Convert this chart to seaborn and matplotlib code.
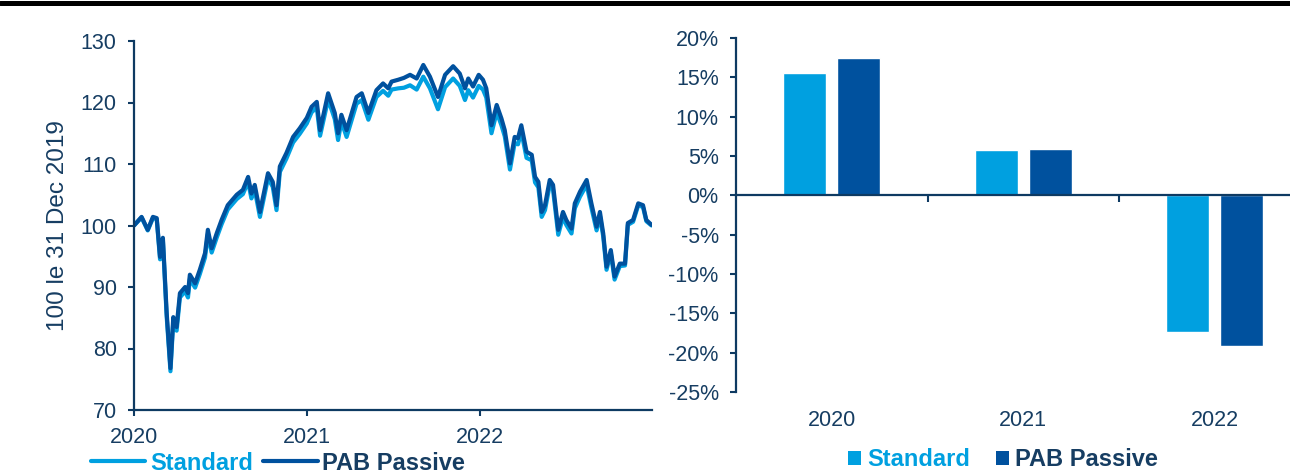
import matplotlib
matplotlib.use("Agg")
import matplotlib.pyplot as plt
import matplotlib.ticker as mticker
import matplotlib.dates as mdates
from matplotlib.lines import Line2D
from matplotlib.patches import Patch
import seaborn as sns
import pandas as pd

# ---------------- data ----------------
dates = [
    "2020-01-01", "2020-01-17", "2020-01-30", "2020-02-10", "2020-02-18", "2020-02-25",
    "2020-03-02", "2020-03-10", "2020-03-18", "2020-03-24", "2020-03-31", "2020-04-07",
    "2020-04-18", "2020-04-24", "2020-04-28", "2020-05-09", "2020-05-19", "2020-05-30",
    "2020-06-05", "2020-06-13", "2020-06-24", "2020-07-04", "2020-07-17", "2020-08-05",
    "2020-08-18", "2020-08-29", "2020-09-05", "2020-09-12", "2020-09-23", "2020-10-10",
    "2020-10-20", "2020-10-28", "2020-11-04", "2020-11-18", "2020-12-02", "2020-12-16",
    "2020-12-31", "2021-01-10", "2021-01-21", "2021-01-28", "2021-02-14", "2021-02-28",
    "2021-03-07", "2021-03-14", "2021-03-25", "2021-04-15", "2021-04-26", "2021-05-10",
    "2021-05-27", "2021-06-10", "2021-06-21", "2021-06-28", "2021-07-12", "2021-07-24",
    "2021-08-06", "2021-08-20", "2021-09-03", "2021-09-17", "2021-10-04", "2021-10-19",
    "2021-11-05", "2021-11-19", "2021-11-30", "2021-12-07", "2021-12-17", "2021-12-29",
    "2022-01-07", "2022-01-14", "2022-01-25", "2022-02-05", "2022-02-15", "2022-02-22",
    "2022-03-05", "2022-03-15", "2022-03-22", "2022-03-29", "2022-04-09", "2022-04-20",
    "2022-04-27", "2022-05-04", "2022-05-11", "2022-05-18", "2022-05-28", "2022-06-04",
    "2022-06-15", "2022-06-25", "2022-07-02", "2022-07-13", "2022-07-20", "2022-07-31",
    "2022-08-14", "2022-08-24", "2022-09-04", "2022-09-11", "2022-09-18", "2022-09-25",
    "2022-10-04", "2022-10-12", "2022-10-23", "2022-11-03", "2022-11-09", "2022-11-20",
    "2022-12-01", "2022-12-11", "2022-12-18", "2022-12-29",
]

pab_passive = [
    100.0, 101.4, 99.3, 101.4, 101.2, 94.9,
    98.0, 85.8, 76.8, 85.1, 83.5, 89.0,
    90.0, 89.0, 92.0, 90.6, 92.8, 95.5,
    99.3, 96.3, 98.8, 100.9, 103.3, 105.0,
    105.8, 107.9, 105.2, 106.6, 102.2, 108.5,
    107.1, 103.3, 109.6, 111.8, 114.4, 115.8,
    117.5, 119.3, 120.1, 115.5, 121.5, 118.3,
    115.0, 118.0, 115.5, 120.9, 121.5, 118.3,
    122.0, 123.1, 122.3, 123.4, 123.7, 124.0,
    124.5, 123.9, 126.1, 124.2, 120.9, 124.5,
    125.9, 124.7, 122.3, 123.9, 122.6, 124.5,
    123.7, 122.3, 116.3, 119.6, 117.4, 115.5,
    110.1, 114.4, 114.2, 116.3, 112.0, 111.5,
    107.9, 107.1, 102.2, 103.3, 107.4, 106.6,
    99.3, 102.2, 100.9, 99.5, 103.6, 105.5,
    107.4, 103.6, 99.8, 102.2, 98.7, 93.3,
    96.0, 91.7, 93.8, 93.8, 100.4, 100.9,
    103.6, 103.3, 100.9, 100.1,
]

standard = [
    100.0, 101.3, 99.2, 101.2, 101.0, 94.5,
    97.6, 85.2, 76.3, 84.5, 82.9, 88.3,
    89.3, 88.3, 91.3, 89.9, 92.1, 94.8,
    98.6, 95.6, 98.1, 100.2, 102.6, 104.3,
    105.1, 107.1, 104.4, 105.8, 101.4, 107.7,
    106.3, 102.5, 108.7, 110.9, 113.5, 114.9,
    116.6, 118.4, 119.2, 114.6, 120.5, 117.3,
    113.9, 116.9, 114.4, 119.8, 120.4, 117.2,
    120.9, 121.9, 121.1, 122.1, 122.3, 122.4,
    122.8, 122.1, 124.2, 122.3, 118.9, 122.5,
    123.9, 122.7, 120.4, 122.0, 120.8, 122.7,
    122.1, 120.8, 115.0, 118.4, 116.3, 114.5,
    109.1, 113.4, 113.2, 115.3, 111.0, 110.6,
    107.0, 106.2, 101.4, 102.5, 106.6, 105.8,
    98.5, 101.4, 100.1, 98.7, 102.8, 104.7,
    106.6, 102.9, 99.2, 101.6, 98.2, 92.8,
    95.5, 91.2, 93.4, 93.5, 100.1, 100.6,
    103.3, 103.0, 100.7, 100.0,
]

series_names = ["Standard", "PAB Passive"]
left_yticks = [70, 80, 90, 100, 110, 120, 130]
left_ylabel = "100 le 31 Dec 2019"

bar_years = ["2020", "2021", "2022"]
bar_standard = [15.6, 5.8, -17.4]
bar_pab = [17.4, 5.9, -19.1]
right_yticks = [-25, -20, -15, -10, -5, 0, 5, 10, 15, 20]

# ---------------- style ----------------
sns.set_theme(style="white")
plt.rcParams["font.family"] = ["Liberation Sans", "DejaVu Sans"]
plt.rcParams["axes.unicode_minus"] = False

NAVY = "#0e3a62"
TEXT = "#163d62"
C_STD = "#00a0e0"
C_PAB = "#00519e"
palette = [C_STD, C_PAB]
TICK_FS = 15.5
LEG_FS = 17

W, H = 1290, 474
fig = plt.figure(figsize=(W / 100, H / 100), dpi=100)

def fx(px):
    return px / W

def fy(py):
    return 1 - py / H

ax1 = fig.add_axes([fx(134), fy(410), fx(652) - fx(134), fy(41) - fy(410)])
ax2 = fig.add_axes([fx(736), fy(392), fx(1310.5) - fx(736), fy(38) - fy(392)])

# ---------------- left: line chart ----------------
n = len(dates)
line_df = pd.DataFrame({
    "date": pd.to_datetime(dates + dates),
    "value": standard + pab_passive,
    "series": [series_names[0]] * n + [series_names[1]] * n,
})
sns.lineplot(data=line_df, x="date", y="value", hue="series",
             hue_order=series_names, palette=palette, linewidth=3.0,
             ax=ax1, legend=False)

ax1.set_xlim(pd.Timestamp("2020-01-01"), pd.Timestamp("2022-12-30"))
ax1.set_ylim(70, 130)
ax1.set_yticks(left_yticks)
ax1.xaxis.set_major_locator(mdates.YearLocator())
ax1.xaxis.set_major_formatter(mdates.DateFormatter("%Y"))
for s in ["top", "right"]:
    ax1.spines[s].set_visible(False)
for s in ["left", "bottom"]:
    ax1.spines[s].set_color(NAVY)
    ax1.spines[s].set_linewidth(1.6)
ax1.tick_params(axis="both", colors=NAVY, labelcolor=TEXT, labelsize=TICK_FS,
                length=4.5, width=1.5, direction="out", left=True, bottom=True)
ax1.tick_params(axis="y", pad=8)
ax1.tick_params(axis="x", pad=8)
ax1.set_xlabel("")
ax1.set_ylabel(left_ylabel, fontsize=17.5, color=TEXT)
ax1.yaxis.set_label_coords((69 - 134) / (652 - 134), 0.5)

# ---------------- right: bar chart ----------------
bar_df = pd.DataFrame({
    "year": bar_years + bar_years,
    "value": bar_standard + bar_pab,
    "series": [series_names[0]] * 3 + [series_names[1]] * 3,
})
sns.barplot(data=bar_df, x="year", y="value", hue="series",
            hue_order=series_names, palette=palette, saturation=1,
            width=0.56, gap=0.2, ax=ax2, legend=False)

ax2.set_xlim(-0.5, 2.5)
ax2.set_ylim(-25, 20)
ax2.set_yticks(right_yticks)
ax2.yaxis.set_major_formatter(mticker.FuncFormatter(lambda v, p: f"{int(round(v))}%"))
for s in ["top", "right"]:
    ax2.spines[s].set_visible(False)
ax2.spines["left"].set_color(NAVY)
ax2.spines["left"].set_linewidth(1.6)
ax2.spines["bottom"].set_position(("data", 0))
ax2.spines["bottom"].set_color(NAVY)
ax2.spines["bottom"].set_linewidth(1.6)
ax2.set_xticks([0.5, 1.5])
ax2.set_xticklabels([])
ax2.tick_params(axis="x", colors=NAVY, length=5, width=1.5, direction="out", bottom=True)
ax2.tick_params(axis="y", colors=NAVY, labelcolor=TEXT, labelsize=TICK_FS,
                length=4.5, width=1.5, direction="out", left=True, pad=8)
ax2.set_xlabel("")
ax2.set_ylabel("")

sec = ax2.secondary_xaxis(0)
sec.set_xticks([0, 1, 2])
sec.set_xticklabels(bar_years)
sec.tick_params(axis="x", length=0, labelsize=TICK_FS, labelcolor=TEXT, pad=13)
sec.spines["bottom"].set_visible(False)

# ---------------- legends ----------------
left_handles = [Line2D([], [], color=c, linewidth=3.0) for c in palette]
leg1 = fig.legend(left_handles, series_names, loc="center",
                  bbox_to_anchor=(fx(278), fy(463)), ncol=2, frameon=False,
                  prop={"weight": "bold", "size": LEG_FS}, handlelength=2.3,
                  handletextpad=0.2, columnspacing=0.45, borderpad=0)
for t, c in zip(leg1.get_texts(), [C_STD, TEXT]):
    t.set_color(c)

right_handles = [Patch(facecolor=c, edgecolor="none") for c in palette]
leg2 = fig.legend(right_handles, series_names, loc="center",
                  bbox_to_anchor=(fx(1003), fy(460)), ncol=2, frameon=False,
                  prop={"weight": "bold", "size": LEG_FS}, handlelength=0.55,
                  handleheight=0.55, handletextpad=0.25, columnspacing=1.1,
                  borderpad=0)
for t, c in zip(leg2.get_texts(), [C_STD, TEXT]):
    t.set_color(c)

# top rule
fig.add_artist(Line2D([0, 1], [fy(2.5), fy(2.5)], transform=fig.transFigure,
                      color="black", linewidth=3.6))

fig.savefig("out.png", dpi=100)
